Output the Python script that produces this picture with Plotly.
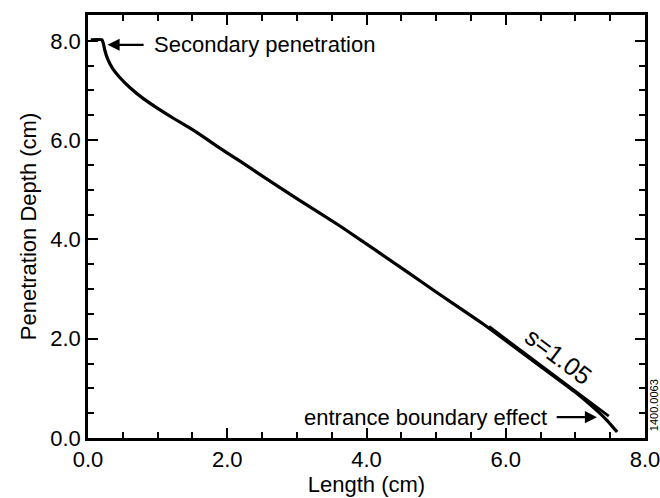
import plotly.graph_objects as go

# Main curve (Length vs Penetration Depth)
length_cm = [0.04, 0.20, 0.22, 0.24, 0.28, 0.35, 0.45, 0.60, 0.80, 1.00, 1.25, 1.49, 1.61, 1.85,
             2.2, 2.5, 3.0, 3.63, 4.6, 5.0, 5.59, 5.76, 6.5, 7.0, 7.24, 7.35, 7.47, 7.6]
depth_cm = [8.02, 8.02, 7.95, 7.82, 7.64, 7.45, 7.27, 7.06, 6.83, 6.64, 6.42, 6.22, 6.11, 5.88,
            5.56, 5.28, 4.82, 4.26, 3.33, 2.94, 2.38, 2.21, 1.44, 0.92, 0.64, 0.50, 0.33, 0.12]

# Fitted slope line s=1.05
fit_x = [5.76, 7.48]
fit_y = [2.25, 0.44]

x_ticks = [0, 2, 4, 6, 8]
x_tick_labels = ["0.0", "2.0", "4.0", "6.0", "8.0"]
y_ticks = [0, 2, 4, 6, 8]
y_tick_labels = ["0.0", "2.0", "4.0", "6.0", "8.0"]
minor_step = 0.5

FONT = "Liberation Sans, Arial, Helvetica, sans-serif"

fig = go.Figure()
fig.add_trace(go.Scatter(x=length_cm, y=depth_cm, mode="lines",
                         line=dict(color="black", width=3.2, shape="spline", smoothing=0.4),
                         showlegend=False, hoverinfo="skip"))
fig.add_trace(go.Scatter(x=fit_x, y=fit_y, mode="lines",
                         line=dict(color="black", width=2.6),
                         showlegend=False, hoverinfo="skip"))

axis_common = dict(
    showgrid=False, zeroline=False, showline=True, linecolor="black", linewidth=2.5,
    mirror="allticks", ticks="inside", ticklen=10, tickwidth=2, tickcolor="black",
    tickfont=dict(family=FONT, size=22, color="black"),
    tickmode="linear", tick0=0, tickformat=".1f",
    minor=dict(ticks="inside", ticklen=6, tickwidth=2, tickcolor="black",
               tickmode="linear", tick0=0, dtick=minor_step, showgrid=False),
    ticklabeloverflow="allow",
)

fig.update_xaxes(range=[x_ticks[0], x_ticks[-1]], dtick=x_ticks[1] - x_ticks[0],
                 title=dict(text="Length (cm)", font=dict(family=FONT, size=22, color="black"),
                            standoff=2),
                 **axis_common)
fig.update_yaxes(range=[0, 8.52], dtick=y_ticks[1] - y_ticks[0],
                 title=dict(text="Penetration Depth (cm)", font=dict(family=FONT, size=22, color="black"),
                            standoff=8),
                 **axis_common)

# Arrows
fig.add_annotation(x=0.28, y=7.92, ax=0.82, ay=7.92, axref="x", ayref="y", xref="x", yref="y",
                   text="", showarrow=True, arrowhead=2, arrowsize=1.1, arrowwidth=2.2, arrowcolor="black")
fig.add_annotation(x=0.92, y=7.92, xref="x", yref="y", text="Secondary penetration",
                   showarrow=False, xanchor="left", yanchor="middle",
                   font=dict(family=FONT, size=22, color="black"))

fig.add_annotation(x=7.31, y=0.42, ax=6.71, ay=0.42, axref="x", ayref="y", xref="x", yref="y",
                   text="", showarrow=True, arrowhead=2, arrowsize=1.1, arrowwidth=2.2, arrowcolor="black")
fig.add_annotation(x=6.62, y=0.42, xref="x", yref="y", text="entrance boundary effect",
                   showarrow=False, xanchor="right", yanchor="middle",
                   font=dict(family=FONT, size=22, color="black"))

fig.add_annotation(x=6.76, y=1.66, xref="x", yref="y", text="s=1.05", showarrow=False,
                   textangle=37, font=dict(family=FONT, size=25, color="black"))

fig.add_annotation(x=(655 - 88) / (646 - 88), y=(438 - 405) / (438 - 12),
                   xref="paper", yref="paper", text="1400.0063", showarrow=False,
                   xanchor="center", yanchor="middle",
                   textangle=-90, font=dict(family=FONT, size=11, color="black"))

# Figure is slightly larger than the 660x498 window so the plot box lands at
# x 88..646, y 12..438 and the last x label is clipped at the window edge.
fig.update_layout(
    width=672, height=510,
    margin=dict(l=88, r=26, t=12, b=72),
    plot_bgcolor="white", paper_bgcolor="white",
)

fig.write_html("out.html", config={"displayModeBar": False},
               post_script="document.body.style.margin='0';document.body.style.overflow='hidden';")
